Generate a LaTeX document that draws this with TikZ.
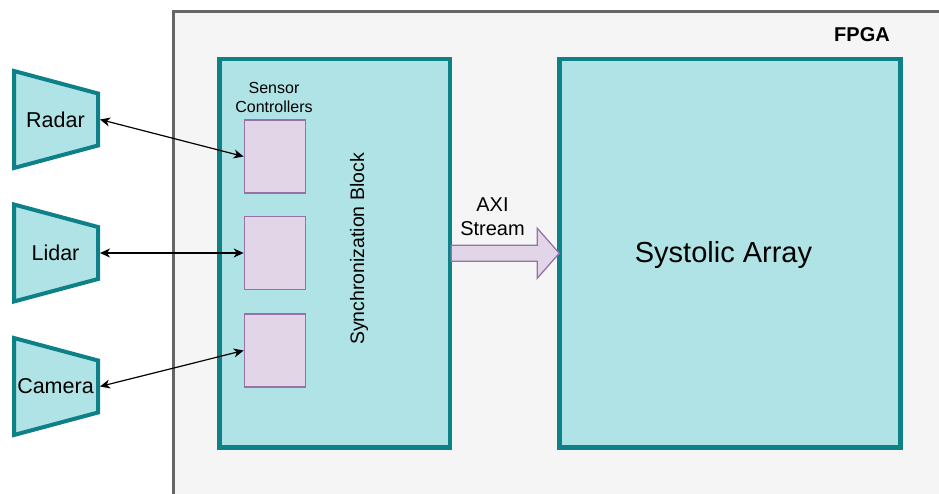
\documentclass[tikz,border=0pt]{standalone}
\usepackage{fontspec}
\setmainfont{Liberation Sans}
\usepackage{tikz}
\usetikzlibrary{arrows.meta}
\usetikzlibrary{calc}
\usetikzlibrary{positioning}

\definecolor{tealline}{HTML}{0E8088}
\definecolor{tealfill}{HTML}{B0E3E6}
\definecolor{mauveline}{HTML}{9673A6}
\definecolor{mauvefill}{HTML}{E1D5E7}
\definecolor{fpgaline}{HTML}{666666}
\definecolor{fpgafill}{HTML}{F5F5F5}

\begin{document}
\begin{tikzpicture}[
    x=1pt, y=-1pt,
    block/.style={draw=tealline, fill=tealfill, line width=4.5pt, inner sep=0pt},
    sensor/.style={draw=tealline, fill=tealfill, line width=4pt},
    ctrl/.style={draw=mauveline, fill=mauvefill, line width=1.3pt,
      minimum width=61pt, minimum height=73pt, inner sep=0pt},
    link/.style={{Stealth[length=10pt,width=9pt,inset=3pt]}-{Stealth[length=10pt,width=9pt,inset=3pt]},
      line width=1.2pt},
    txt/.style 2 args={font=\fontsize{#1}{#2}\selectfont, align=center, inner sep=0pt}]

    \clip (0, 0) rectangle (939, 494);

    % FPGA frame
    \draw [draw=fpgaline, fill=fpgafill, line width=3pt] (173.5, 12) rectangle (970, 530);
    \node [align=center, inner sep=0pt, font=\bfseries\fontsize{20}{24}\selectfont] (fpga) at (862, 35) {FPGA};

    % main blocks
    \node [block, minimum width=230.5pt, minimum height=388.5pt] (sync) at (334.75, 253.25) {};
    \node [block, minimum width=341pt, minimum height=388.5pt] (systolic) at (730, 253.25) {};
    \node [txt={19.5}{24}, rotate=90] (synclabel) at (359, 249) {Synchronization Block};
    \node [txt={29}{34}] (systoliclabel) at (723.5, 255) {Systolic Array};

    % sensor controllers
    \node [txt={16}{19}] (ctllabel) at (274, 97) {Sensor\\Controllers};
    \foreach \i/\y in {1/156.5, 2/253, 3/350.5}
      \node [ctrl] (ctl\i) at (274.8, \y) {};

    % sensors
    \foreach \id/\name/\y in {radar/Radar/119.5, lidar/Lidar/253, camera/Camera/386.5} {
      \draw [sensor] (14, {\y-48.5}) -- (98, {\y-26}) -- (98, {\y+26}) -- (14, {\y+48.5}) -- cycle;
      \node [txt={21.5}{26}] (\id) at (55.5, \y) {\name};
      \coordinate (\id-e) at (100, \y);
    }

    \draw [link] (radar-e) -- (ctl1.west);
    \draw [link] (lidar-e) -- (ctl2.west);
    \draw [link] (camera-e) -- (ctl3.west);

    % AXI stream arrow
    \coordinate (axi-s) at ([xshift=-1pt]sync.east);
    \coordinate (axi-t) at ([xshift=2pt]systolic.west);
    \draw [draw=mauveline, fill=mauvefill, line width=1.3pt]
      ($(axi-s)+(0,-8)$) -- ($(axi-t)+(-22,-8)$) -- ($(axi-t)+(-22,-25)$) -- (axi-t)
      -- ($(axi-t)+(-22,25)$) -- ($(axi-t)+(-22,8)$) -- ($(axi-s)+(0,8)$) -- cycle;
    \node [txt={20}{24}] (axilabel) at (492.5, 217) {AXI\\Stream};

  \end{tikzpicture}
\end{document}
